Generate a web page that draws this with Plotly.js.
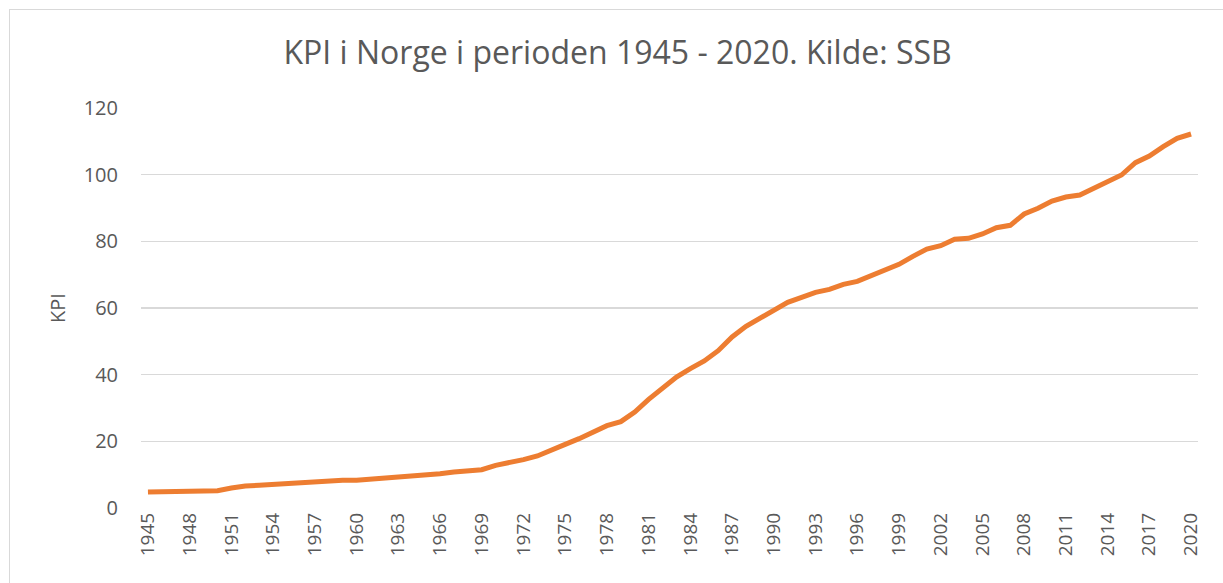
<!DOCTYPE html>
<html>
<head>
<meta charset="utf-8">
<script src="https://cdn.plot.ly/plotly-3.0.1.min.js"></script>
<style>
  html, body { margin: 0; padding: 0; background: #fff; overflow: hidden; }
  #frame { position: absolute; left: 9px; top: 9px; width: 1240px; height: 600px; border: 1px solid #d9d9d9; }
  #chart { position: absolute; left: 0; top: 0; width: 1223px; height: 583px; }
</style>
</head>
<body>
<div id="frame"></div>
<div id="chart"></div>
<script>
const years = [];
for (let y = 1945; y <= 2020; y++) years.push(String(y));

const kpi = [
  4.8, 4.9, 4.9, 4.9, 5.0, 5.2, 6.0, 6.6, 6.8, 7.1,
  7.2, 7.5, 7.7, 8.1, 8.3, 8.3, 8.6, 8.8, 9.1, 9.6,
  10.0, 10.3, 10.8, 11.2, 11.5, 12.8, 13.6, 14.5, 15.6, 17.2,
  19.1, 20.8, 22.8, 24.7, 25.9, 28.8, 32.6, 36.0, 39.3, 41.8,
  44.1, 47.2, 51.3, 54.5, 56.9, 59.4, 61.7, 63.2, 64.7, 65.6,
  67.1, 68.0, 69.8, 71.4, 73.1, 75.5, 77.7, 78.7, 80.6, 80.9,
  82.2, 84.1, 84.8, 88.2, 89.9, 92.1, 93.3, 93.9, 95.9, 97.9,
  99.9, 103.6, 105.6, 108.4, 110.9, 112.2
];

const tickYears = years.filter((y, i) => i % 3 === 0);
const yTicks = [0, 20, 40, 60, 80, 100, 120];

const grey = '#595959';

Plotly.newPlot('chart', [{
  x: years,
  y: kpi,
  type: 'scatter',
  mode: 'lines',
  line: { color: '#ED7D31', width: 5 },
  hoverinfo: 'x+y'
}], {
  width: 1223,
  height: 583,
  paper_bgcolor: 'rgba(0,0,0,0)',
  plot_bgcolor: 'rgba(0,0,0,0)',
  margin: { l: 141, r: 25, t: 108, b: 75, pad: 0 },
  showlegend: false,
  font: { family: 'Open Sans, sans-serif', color: grey },
  title: {
    text: 'KPI i Norge i perioden 1945 - 2020. Kilde: SSB',
    font: { size: 32, color: grey, family: 'Open Sans, sans-serif' },
    x: 0.505, xanchor: 'center',
    y: 0.91, yanchor: 'middle'
  },
  xaxis: {
    type: 'category',
    range: [-0.5, 75.5],
    tickmode: 'array',
    tickvals: tickYears,
    ticktext: tickYears,
    tickangle: -90,
    tickfont: { size: 19, color: grey },
    showgrid: false,
    zeroline: false,
    showline: false,
    ticks: '',
    ticklen: 0
  },
  yaxis: {
    range: [0, 120],
    tickmode: 'array',
    tickvals: yTicks,
    ticktext: yTicks.map(String),
    tickfont: { size: 20, color: grey },
    showgrid: true,
    gridcolor: '#d9d9d9',
    gridwidth: 1.4,
    zeroline: false,
    showline: false,
    ticks: 'outside',
    ticklen: 18,
    tickcolor: 'rgba(0,0,0,0)',
    title: { text: 'KPI', font: { size: 20, color: grey }, standoff: 12 }
  }
}, { staticPlot: true });
</script>
</body>
</html>
